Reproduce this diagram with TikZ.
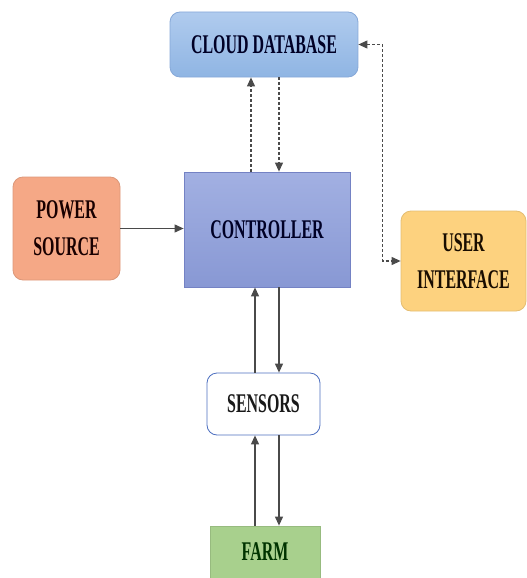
\documentclass[tikz,border=0pt]{standalone}
\usepackage{fontspec}
\newfontfamily\lblfont{Liberation Serif}[FakeStretch=0.59]
\usetikzlibrary{arrows.meta}

\definecolor{cloudtop}{HTML}{B0CBEE}
\definecolor{cloudbot}{HTML}{8FB5E3}
\definecolor{cloudline}{HTML}{86A8D8}
\definecolor{ctrltop}{HTML}{A2B0E2}
\definecolor{ctrlbot}{HTML}{8898D4}
\definecolor{ctrlline}{HTML}{7482C4}
\definecolor{powerfill}{HTML}{F5A886}
\definecolor{uifill}{HTML}{FDD27F}
\definecolor{farmfill}{HTML}{A8D08D}
\definecolor{sensline}{HTML}{4D6FC0}
\definecolor{wireline}{HTML}{4A4A4A}

\tikzset{
  lbl/.style={font=\lblfont\bfseries\fontsize{27}{37}\selectfont, align=center, inner sep=0pt},
  blockbox/.style={lbl, draw, line width=0.8pt, rectangle},
  roundbox/.style={blockbox, rounded corners=10pt},
  tip/.style={-{Triangle[length=9pt,width=8pt]}},
  solidarrow/.style={draw=wireline, line width=1.1pt, tip},
  dasharrow/.style={draw=wireline, line width=1.1pt, dash pattern=on 3pt off 2pt, tip},
}

\begin{document}
\begin{tikzpicture}[x=1pt, y=-1pt]
  \useasboundingbox (0,0) rectangle (527,578);

  % blocks
  \node[roundbox, draw=cloudline, top color=cloudtop, bottom color=cloudbot,
        text=black!85!blue, minimum width=188pt, minimum height=65pt]
        (cloud) at (264,44.5) {CLOUD DATABASE};
  \node[blockbox, draw=ctrlline, top color=ctrltop, bottom color=ctrlbot,
        text=black!85!blue, minimum width=166pt, minimum height=115pt]
        (ctrl) at (267,229.5) {CONTROLLER};
  \node[roundbox, draw=powerfill!90!black, fill=powerfill, text=black!90!red,
        minimum width=107pt, minimum height=103pt]
        (power) at (66.5,228.5) {POWER\\SOURCE};
  \node[roundbox, draw=uifill!90!black, fill=uifill, text=black!90!orange,
        minimum width=125pt, minimum height=100pt]
        (ui) at (463.5,261) {USER\\INTERFACE};
  \node[roundbox, draw=sensline, fill=white, text=black!90,
        minimum width=113pt, minimum height=62pt]
        (sens) at (263.5,404) {SENSORS};
  \node[blockbox, draw=farmfill!90!black, fill=farmfill, text=black!80!green,
        minimum width=110pt, minimum height=52pt]
        (farm) at (265,552) {FARM};

  % controller <-> cloud database
  \draw[dasharrow] ([xshift=-16pt]ctrl.north) -- ([xshift=-16pt]ctrl.north |- cloud.south);
  \draw[dasharrow] ([xshift=12pt]ctrl.north |- cloud.south) -- ([xshift=12pt]ctrl.north);

  % user interface <-> cloud database
  \draw[dasharrow, {Triangle[length=9pt,width=8pt]}-{Triangle[length=9pt,width=8pt]}]
        (cloud.east) -- ++(24,0) |- (ui.west);

  % power source -> controller
  \draw[solidarrow] (power.east) -- (ctrl.west |- power.east);

  % controller <-> sensors
  \draw[solidarrow] ([xshift=-12pt]ctrl.south |- sens.north) -- ([xshift=-12pt]ctrl.south);
  \draw[solidarrow] ([xshift=12pt]ctrl.south) -- ([xshift=12pt]ctrl.south |- sens.north);

  % sensors <-> farm
  \draw[solidarrow] ([xshift=-12pt]ctrl.south |- farm.north) -- ([xshift=-12pt]ctrl.south |- sens.south);
  \draw[solidarrow] ([xshift=12pt]ctrl.south |- sens.south) -- ([xshift=12pt]ctrl.south |- farm.north);
\end{tikzpicture}
\end{document}
